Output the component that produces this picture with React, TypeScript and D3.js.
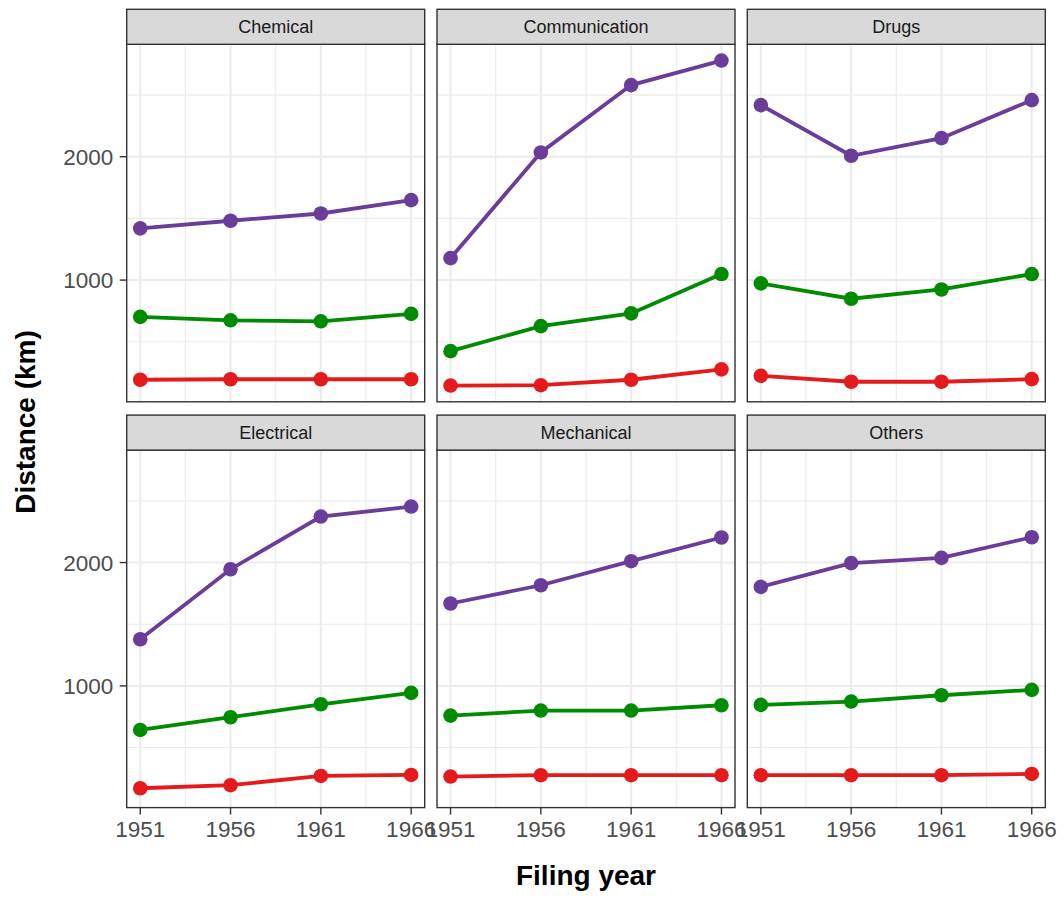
import React from "react";
import * as d3 from "d3";

const years = [1951, 1956, 1961, 1966];
const categories = ["Chemical", "Communication", "Drugs", "Electrical", "Mechanical", "Others"];

// high (purple), middle (green), low (red) distance series per category
const highSeries: number[][] = [
  [1419, 1481, 1540, 1648],
  [1178, 2035, 2581, 2780],
  [2419, 2008, 2151, 2459],
  [1378, 1946, 2373, 2454],
  [1668, 1816, 2011, 2203],
  [1803, 1995, 2038, 2205],
];
const midSeries: number[][] = [
  [702, 674, 666, 726],
  [424, 627, 730, 1049],
  [973, 849, 924, 1049],
  [643, 746, 851, 943],
  [759, 800, 800, 843],
  [846, 873, 924, 968],
];
const lowSeries: number[][] = [
  [192, 196, 196, 196],
  [145, 148, 192, 276],
  [224, 176, 176, 197],
  [170, 195, 270, 278],
  [265, 276, 276, 276],
  [276, 276, 276, 286],
];
const seriesColors = ["#e41a1c", "#008b00", "#6a3d9a"];
const yTicks = [1000, 2000];
const yMinor = [500, 1500, 2500];
const xMinor = [1953.5, 1958.5, 1963.5];

const FONT = "'Liberation Sans', Arial, Helvetica, sans-serif";

export default function App() {
  const W = 1064, H = 897;
  const left = 126.7, panelW = 298, gapX = 12.3;
  const top = 9.3, stripH = 35, panelH = 357.5, gapY = 13.3;

  const all = [...highSeries, ...midSeries, ...lowSeries].flat();
  const yMin = d3.min(all)!, yMax = d3.max(all)!;
  const yPad = (yMax - yMin) * 0.05;
  const xPad = (d3.max(years)! - d3.min(years)!) * 0.05;

  const x = d3.scaleLinear().domain([d3.min(years)! - xPad, d3.max(years)! + xPad]).range([0, panelW]);
  const y = d3.scaleLinear().domain([yMin - yPad, yMax + yPad]).range([panelH, 0]);
  const line = d3.line<number>().x((_, i) => x(years[i])).y((d) => y(d));

  return (
    <svg width={W} height={H} style={{ position: "absolute", left: 0, top: 0, background: "#fff" }} fontFamily={FONT}>
      <rect width={W} height={H} fill="#fff" />
      {categories.map((cat, ci) => {
        const col = ci % 3, row = Math.floor(ci / 3);
        const px = left + col * (panelW + gapX);
        const sy = top + row * (stripH + panelH + gapY);
        const py = sy + stripH;
        const series = [lowSeries[ci], midSeries[ci], highSeries[ci]];
        return (
          <g key={cat}>
            <g transform={`translate(${px},${py})`}>
              <rect width={panelW} height={panelH} fill="#fff" />
              {yMinor.map((v) => (
                <line key={"ym" + v} x1={0} x2={panelW} y1={y(v)} y2={y(v)} stroke="#ebebeb" strokeWidth={1.1} />
              ))}
              {xMinor.map((v) => (
                <line key={"xm" + v} x1={x(v)} x2={x(v)} y1={0} y2={panelH} stroke="#ebebeb" strokeWidth={1.1} />
              ))}
              {yTicks.map((v) => (
                <line key={"yM" + v} x1={0} x2={panelW} y1={y(v)} y2={y(v)} stroke="#ebebeb" strokeWidth={2} />
              ))}
              {years.map((v) => (
                <line key={"xM" + v} x1={x(v)} x2={x(v)} y1={0} y2={panelH} stroke="#ebebeb" strokeWidth={2} />
              ))}
              {series.map((s, si) => (
                <g key={si}>
                  <path d={line(s) || ""} fill="none" stroke={seriesColors[si]} strokeWidth={3.8} />
                  {s.map((v, i) => (
                    <circle key={i} cx={x(years[i])} cy={y(v)} r={7.3} fill={seriesColors[si]} />
                  ))}
                </g>
              ))}
              <rect width={panelW} height={panelH} fill="none" stroke="#333333" strokeWidth={1.4} />
              {col === 0 &&
                yTicks.map((v) => (
                  <g key={"yt" + v}>
                    <line x1={-7} x2={0} y1={y(v)} y2={y(v)} stroke="#333333" strokeWidth={1.4} />
                    <text x={-13.5} y={y(v)} dy="0.36em" textAnchor="end" fontSize={22.5} fill="#4d4d4d">
                      {v}
                    </text>
                  </g>
                ))}
              {row === 1 &&
                years.map((v) => (
                  <g key={"xt" + v}>
                    <line x1={x(v)} x2={x(v)} y1={panelH} y2={panelH + 7} stroke="#333333" strokeWidth={1.4} />
                    <text x={x(v)} y={panelH + 29.5} textAnchor="middle" fontSize={22.5} fill="#4d4d4d">
                      {v}
                    </text>
                  </g>
                ))}
            </g>
            <g transform={`translate(${px},${sy})`}>
              <rect width={panelW} height={stripH} fill="#d9d9d9" stroke="#333333" strokeWidth={1.4} />
              <text x={panelW / 2} y={stripH / 2} dy="0.36em" textAnchor="middle" fontSize={18} fill="#1a1a1a">
                {cat}
              </text>
            </g>
          </g>
        );
      })}
      <text x={586} y={885} textAnchor="middle" fontSize={28} fontWeight="bold" fill="#000">
        Filing year
      </text>
      <text transform="translate(35,422) rotate(-90)" textAnchor="middle" fontSize={28} fontWeight="bold" fill="#000">
        Distance (km)
      </text>
    </svg>
  );
}
